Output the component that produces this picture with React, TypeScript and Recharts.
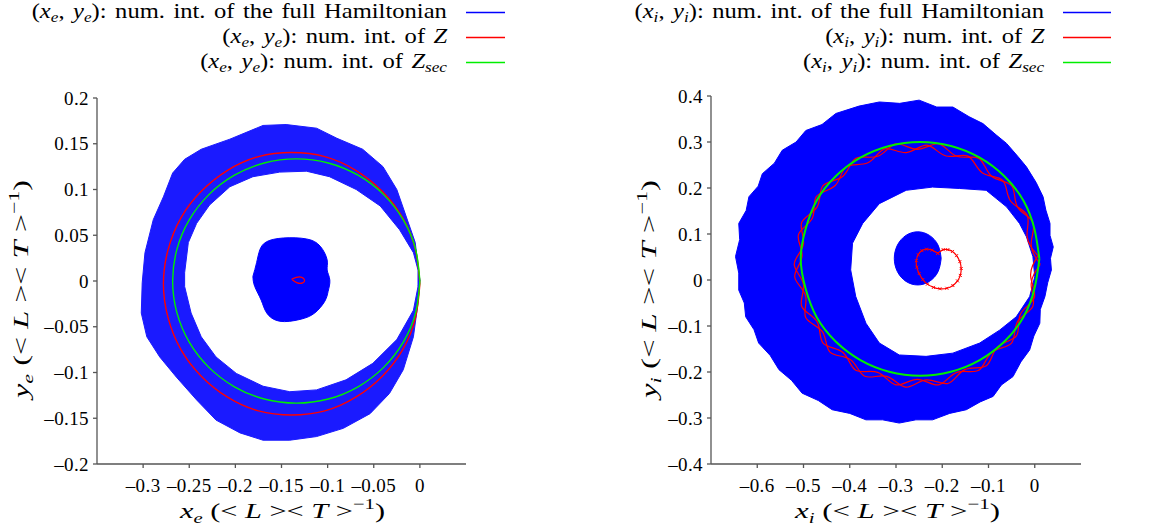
import React from "react";
import { ScatterChart, Scatter, XAxis, YAxis, Curve } from "recharts";

type Pt = [number, number];

const BLUE = "#0000ff";
const RED = "#ff0000";
const GREEN = "#00ee00";
const AXIS = "#555";
const FONT = "'Liberation Serif', 'Times New Roman', serif";

// tick values
const eTicksX = [-0.3, -0.25, -0.2, -0.15, -0.1, -0.05, 0];
const eTicksY = [-0.2, -0.15, -0.1, -0.05, 0, 0.05, 0.1, 0.15, 0.2];
const iTicksX = [-0.6, -0.5, -0.4, -0.3, -0.2, -0.1, 0];
const iTicksY = [-0.4, -0.3, -0.2, -0.1, 0, 0.1, 0.2, 0.3, 0.4];

// (x_e, y_e) full Hamiltonian: outer edge of the ring, then edge of the hole
const eFullOuter: Pt[] = [
  [0, 0.001], [-0.002, 0.016], [-0.005, 0.042], [-0.015, 0.071], [-0.025, 0.1],
  [-0.04, 0.125], [-0.062, 0.144], [-0.09, 0.156], [-0.112, 0.167], [-0.145, 0.171],
  [-0.17, 0.17], [-0.206, 0.155], [-0.237, 0.144], [-0.255, 0.133], [-0.268, 0.118],
  [-0.278, 0.092], [-0.289, 0.067], [-0.298, 0.031], [-0.301, -0.002], [-0.302, -0.035],
  [-0.296, -0.061], [-0.282, -0.083], [-0.264, -0.105], [-0.242, -0.13], [-0.221, -0.152],
  [-0.195, -0.166], [-0.17, -0.174], [-0.141, -0.174], [-0.112, -0.17], [-0.083, -0.161],
  [-0.054, -0.145], [-0.033, -0.123], [-0.018, -0.097], [-0.007, -0.061], [-0.002, -0.024],
];
const eFullHole: Pt[] = [
  [-0.002, -0.006], [-0.007, -0.032], [-0.025, -0.064], [-0.051, -0.09], [-0.08, -0.108],
  [-0.112, -0.119], [-0.141, -0.121], [-0.17, -0.115], [-0.199, -0.101], [-0.221, -0.083],
  [-0.237, -0.061], [-0.248, -0.035], [-0.255, -0.006], [-0.255, 0.009], [-0.251, 0.042],
  [-0.242, 0.063], [-0.228, 0.083], [-0.206, 0.103], [-0.181, 0.114], [-0.152, 0.119],
  [-0.123, 0.12], [-0.098, 0.114], [-0.069, 0.1], [-0.043, 0.082], [-0.022, 0.056],
  [-0.007, 0.031], [-0.002, 0.012],
];
const eFullBlob: Pt[] = [
  [-0.181, 0.005], [-0.177, 0.02], [-0.1735, 0.034], [-0.166, 0.043], [-0.148, 0.047],
  [-0.123, 0.046], [-0.108, 0.038], [-0.1005, 0.023], [-0.1005, 0.012], [-0.0976, 0.001],
  [-0.0995, -0.0115], [-0.103, -0.022], [-0.114, -0.035], [-0.13, -0.042], [-0.152, -0.044],
  [-0.166, -0.035], [-0.172, -0.021], [-0.179, -0.006],
];
// (x_e, y_e) Z
const eZ: Pt[] = [
  [0, -0.003], [-0.0047, 0.034], [-0.0186, 0.069], [-0.0407, 0.098], [-0.0695, 0.121],
  [-0.103, 0.136], [-0.139, 0.1405], [-0.175, 0.136], [-0.2085, 0.121], [-0.237, 0.098],
  [-0.259, 0.069], [-0.273, 0.034], [-0.278, -0.003], [-0.273, -0.04], [-0.259, -0.075],
  [-0.237, -0.104], [-0.2085, -0.127], [-0.175, -0.142], [-0.139, -0.1465], [-0.103, -0.142],
  [-0.0695, -0.127], [-0.0407, -0.104], [-0.0186, -0.075], [-0.0047, -0.04],
];
const eZSmall: Pt[] = [
  [-0.139, 0.002], [-0.134, 0.004], [-0.128, 0.004], [-0.125, 0.001], [-0.127, -0.002],
  [-0.133, -0.002],
];
// (x_e, y_e) Z_sec
const eZsec: Pt[] = [
  [0, 0], [-0.0046, 0.0346], [-0.018, 0.0668], [-0.0393, 0.0944], [-0.067, 0.1156],
  [-0.0993, 0.129], [-0.134, 0.1335], [-0.1687, 0.129], [-0.201, 0.1156], [-0.2287, 0.0944],
  [-0.25, 0.0668], [-0.2634, 0.0346], [-0.268, 0], [-0.2634, -0.0346], [-0.25, -0.0668],
  [-0.2287, -0.0944], [-0.201, -0.1156], [-0.1687, -0.129], [-0.134, -0.1335], [-0.0993, -0.129],
  [-0.067, -0.1156], [-0.0393, -0.0944], [-0.018, -0.0668], [-0.0046, -0.0346],
];

// (x_i, y_i) full Hamiltonian (outer edge is scalloped)
const iFullOuter: Pt[] = [
  [0.036, 0.022], [0.028, -0.006], [0.022, -0.036], [0.012, -0.064], [0.011, -0.094],
  [-0.002, -0.122], [-0.011, -0.152], [-0.03, -0.178], [-0.047, -0.21], [-0.072, -0.228],
  [-0.09, -0.253], [-0.118, -0.265], [-0.148, -0.282], [-0.184, -0.29], [-0.221, -0.304],
  [-0.257, -0.304], [-0.293, -0.311], [-0.329, -0.304], [-0.365, -0.304], [-0.4, -0.29],
  [-0.438, -0.282], [-0.468, -0.262], [-0.503, -0.246], [-0.526, -0.218], [-0.553, -0.195],
  [-0.572, -0.164], [-0.597, -0.137], [-0.607, -0.108], [-0.625, -0.08], [-0.628, -0.05],
  [-0.64, -0.022], [-0.64, 0.015], [-0.647, 0.051], [-0.638, 0.088], [-0.64, 0.123],
  [-0.624, 0.151], [-0.618, 0.181], [-0.598, 0.204], [-0.589, 0.231], [-0.563, 0.254],
  [-0.546, 0.282], [-0.516, 0.3], [-0.495, 0.325], [-0.46, 0.338], [-0.43, 0.362],
  [-0.38, 0.378], [-0.336, 0.387], [-0.292, 0.384], [-0.25, 0.391], [-0.212, 0.376],
  [-0.177, 0.376], [-0.142, 0.355], [-0.112, 0.34], [-0.083, 0.315], [-0.061, 0.297],
  [-0.036, 0.268], [-0.018, 0.246], [0.003, 0.212], [0.018, 0.181], [0.024, 0.152],
  [0.033, 0.123], [0.033, 0.097], [0.04, 0.072], [0.034, 0.047],
];
const iFullHole: Pt[] = [
  [0, 0.007], [-0.004, 0.051], [-0.018, 0.094], [-0.033, 0.123], [-0.061, 0.159],
  [-0.105, 0.195], [-0.163, 0.199], [-0.221, 0.202], [-0.278, 0.195], [-0.336, 0.166],
  [-0.372, 0.123], [-0.394, 0.08], [-0.398, 0.022], [-0.387, -0.036], [-0.365, -0.094],
  [-0.336, -0.137], [-0.293, -0.163], [-0.235, -0.166], [-0.177, -0.159], [-0.119, -0.137],
  [-0.076, -0.109], [-0.04, -0.08], [-0.011, -0.036],
];
const iFullBlob: Pt[] = [
  [-0.2023, 0.047], [-0.2091, 0.0759], [-0.2277, 0.097], [-0.253, 0.1048], [-0.2784, 0.097],
  [-0.2969, 0.0759], [-0.3037, 0.047], [-0.2969, 0.0181], [-0.2784, -0.003], [-0.253, -0.0108],
  [-0.2277, -0.003], [-0.2091, 0.0181],
];
// (x_i, y_i) Z: two wavy passes and the small loop
const iZa: Pt[] = [
  [0.012, 0.034], [-0.0078, 0.0774], [-0.004, 0.125], [-0.0375, 0.159], [-0.0502, 0.205],
  [-0.0933, 0.2255], [-0.121, 0.2644], [-0.1685, 0.2689], [-0.2078, 0.296], [-0.254, 0.284],
  [-0.3002, 0.296], [-0.3395, 0.2689], [-0.387, 0.2644], [-0.4147, 0.2255], [-0.4578, 0.205],
  [-0.4705, 0.159], [-0.504, 0.125], [-0.5002, 0.0774], [-0.52, 0.034], [-0.5002, -0.0094],
  [-0.504, -0.057], [-0.4705, -0.091], [-0.4578, -0.137], [-0.4147, -0.1575], [-0.387, -0.1964],
  [-0.3395, -0.2009], [-0.3002, -0.228], [-0.254, -0.216], [-0.2078, -0.228], [-0.1685, -0.2009],
  [-0.121, -0.1964], [-0.0933, -0.1575], [-0.0502, -0.137], [-0.0375, -0.091], [-0.004, -0.057],
  [-0.0078, -0.0094],
];
const iZb: Pt[] = [
  [0.007, 0.053], [-0.0165, 0.0942], [-0.0167, 0.1416], [-0.0528, 0.1723], [-0.0693, 0.2167],
  [-0.1137, 0.2332], [-0.1444, 0.2693], [-0.1918, 0.2695], [-0.233, 0.293], [-0.2776, 0.2771],
  [-0.3243, 0.285], [-0.3608, 0.2548], [-0.4074, 0.2463], [-0.4314, 0.2054], [-0.4723, 0.1814],
  [-0.4808, 0.1348], [-0.511, 0.0983], [-0.5031, 0.0516], [-0.519, 0.007], [-0.4955, -0.0342],
  [-0.4953, -0.0816], [-0.4592, -0.1123], [-0.4427, -0.1567], [-0.3983, -0.1732], [-0.3676, -0.2093],
  [-0.3202, -0.2095], [-0.279, -0.233], [-0.2344, -0.2171], [-0.1877, -0.225], [-0.1512, -0.1948],
  [-0.1046, -0.1863], [-0.0806, -0.1454], [-0.0397, -0.1214], [-0.0312, -0.0748], [-0.001, -0.0383],
  [-0.0089, 0.0084],
];
const iZSmall: Pt[] = [
  [-0.2097, 0.058], [-0.198, 0.066], [-0.188, 0.066], [-0.178, 0.062], [-0.169, 0.053],
  [-0.162, 0.04], [-0.159, 0.025], [-0.161, 0.01], [-0.167, -0.002], [-0.177, -0.012],
  [-0.19, -0.018], [-0.205, -0.019], [-0.219, -0.016], [-0.232, -0.009], [-0.242, 0.001],
  [-0.25, 0.014], [-0.255, 0.028], [-0.256, 0.042], [-0.252, 0.055], [-0.244, 0.064],
  [-0.234, 0.067], [-0.222, 0.065],
];
// (x_i, y_i) Z_sec
const iZsec: Pt[] = [
  [0.01, 0.046], [-0.0008, 0.1117], [-0.0246, 0.173], [-0.0656, 0.2256], [-0.119, 0.266],
  [-0.1812, 0.2913], [-0.248, 0.3], [-0.3148, 0.2913], [-0.377, 0.266], [-0.4304, 0.2256],
  [-0.4714, 0.173], [-0.4952, 0.1117], [-0.506, 0.046], [-0.4952, -0.0197], [-0.4714, -0.081],
  [-0.4304, -0.1336], [-0.377, -0.174], [-0.3148, -0.1993], [-0.248, -0.208], [-0.1812, -0.1993],
  [-0.119, -0.174], [-0.0656, -0.1336], [-0.0246, -0.081], [-0.0008, -0.0197],
];

const rows = (pts: Pt[]) => pts.map(([x, y]) => ({ x, y }));
const loop = (pts: Pt[]) => rows([...pts, pts[0]]);
const ring = (outer: Pt[], hole: Pt[]) =>
  rows([...outer, outer[0], ...hole, hole[0]]);

// line renderer: the points come from the Scatter (already scaled)
const path =
  (type: string, stroke: string, width: number, fill = "none") =>
  (p: any) => (
    <Curve
      points={p.points}
      type={type as any}
      stroke={stroke}
      strokeWidth={width}
      fill={fill}
      fillRule="evenodd"
    />
  );

const NoDot = () => <g />;
const Cross = (p: any) => (
  <path
    d={`M${p.cx - 1.5},${p.cy - 1.5}L${p.cx + 1.5},${p.cy + 1.5}M${p.cx - 1.5},${p.cy + 1.5}L${p.cx + 1.5},${p.cy - 1.5}`}
    stroke={RED}
    strokeWidth={1}
  />
);

const fmt = (v: number) => String(Math.round(v * 100) / 100).replace("-", "\u2013");
const tickStyle = { fill: "#000", fontSize: 19, fontFamily: FONT, letterSpacing: 0.4 };

const Sub = ({ children }: { children: React.ReactNode }) => (
  <i style={{ fontSize: "0.7em", position: "relative", top: "0.28em" }}>{children}</i>
);

function Pair({ s }: { s: string }) {
  return (
    <span>
      (<i>x</i>
      <Sub>{s}</Sub>, <i>y</i>
      <Sub>{s}</Sub>)
    </span>
  );
}

function LegendBox({
  s,
  textRight,
  lineLeft,
  lineLen,
}: {
  s: string;
  textRight: number;
  lineLeft: number;
  lineLen: number;
}) {
  const items = [
    { label: <>num. int. of the full Hamiltonian</>, color: BLUE },
    { label: <>num. int. of <i>Z</i></>, color: RED },
    { label: <>num. int. of <i>Z</i><Sub>sec</Sub></>, color: GREEN },
  ];
  return (
    <>
      {items.map((it, k) => (
        <div
          key={k}
          style={{
            position: "absolute",
            right: 1156 - textRight,
            top: k * 25 - 2,
            whiteSpace: "nowrap",
            fontSize: 21,
            lineHeight: "26px",
            wordSpacing: 2,
            transform: "scaleX(1.17)",
            transformOrigin: "right center",
          }}
        >
          <Pair s={s} />: {it.label}
        </div>
      ))}
      <svg
        style={{ position: "absolute", left: lineLeft, top: 0 }}
        width={lineLen}
        height={80}
      >
        {items.map((it, k) => (
          <line
            key={k}
            x1={0}
            x2={lineLen}
            y1={12.5 + k * 25}
            y2={12.5 + k * 25}
            stroke={it.color}
            strokeWidth={1.5}
          />
        ))}
      </svg>
    </>
  );
}

// one svg text per axis title, stretched to the reference length
function AxisTitle({
  s,
  v,
  x,
  y,
  len,
  rotate,
}: {
  s: string;
  v: string;
  x: number;
  y: number;
  len: number;
  rotate?: boolean;
}) {
  return (
    <text
      x={x}
      y={y}
      textAnchor="middle"
      fontSize={22}
      fontFamily={FONT}
      fill="#000"
      textLength={len}
      lengthAdjust="spacingAndGlyphs"
      transform={rotate ? `rotate(-90 ${x} ${y})` : undefined}
    >
      <tspan fontStyle="italic">{v}</tspan>
      <tspan fontStyle="italic" fontSize={15} dy={5}>{s}</tspan>
      <tspan dy={-5}>{"  (< "}</tspan>
      <tspan fontStyle="italic">L</tspan>
      <tspan>{" >< "}</tspan>
      <tspan fontStyle="italic">T</tspan>
      <tspan>{" >"}</tspan>
      <tspan fontSize={15} dy={-9}>{"\u22121"}</tspan>
      <tspan dy={9}>)</tspan>
    </text>
  );
}

function Panel({
  left,
  width,
  margin,
  xDomain,
  yDomain,
  xTicks,
  yTicks,
  children,
}: any) {
  return (
    <div style={{ position: "absolute", left, top: 0 }}>
      <ScatterChart width={width} height={531} margin={margin}>
        <XAxis
          type="number"
          dataKey="x"
          domain={xDomain}
          ticks={xTicks}
          interval={0}
          allowDataOverflow
          height={60}
          tickSize={4}
          tickMargin={11}
          tickFormatter={fmt}
          tick={tickStyle}
          stroke={AXIS}
          strokeWidth={1.3}
        />
        <YAxis
          type="number"
          dataKey="y"
          domain={yDomain}
          ticks={yTicks}
          interval={0}
          allowDataOverflow
          width={60}
          tickSize={4}
          tickMargin={4}
          tickFormatter={fmt}
          tick={tickStyle}
          stroke={AXIS}
          strokeWidth={1.3}
        />
        {children}
      </ScatterChart>
    </div>
  );
}

export default function App() {
  return (
    <div
      style={{
        position: "absolute",
        left: 0,
        top: 0,
        width: 1156,
        height: 531,
        background: "#fff",
        fontFamily: FONT,
        color: "#000",
        overflow: "hidden",
      }}
    >
      <LegendBox s="e" textRight={447} lineLeft={466} lineLen={39} />
      <LegendBox s="i" textRight={1044} lineLeft={1063} lineLen={48} />

      <Panel
        left={0}
        width={560}
        margin={{ top: 98, right: 94, bottom: 7, left: 37 }}
        xDomain={[-0.35, 0.05]}
        yDomain={[-0.2, 0.2]}
        xTicks={eTicksX}
        yTicks={eTicksY}
      >
        <Scatter
          data={ring(eFullOuter, eFullHole)}
          shape={NoDot}
          line={path("linear", "#1a1aff", 1, "#1a1aff")}
          isAnimationActive={false}
        />
        <Scatter
          data={loop(eFullBlob)}
          shape={NoDot}
          line={path("natural", BLUE, 1, BLUE)}
          isAnimationActive={false}
        />
        <Scatter
          data={loop(eZ)}
          shape={NoDot}
          line={path("natural", RED, 1.4)}
          isAnimationActive={false}
        />
        <Scatter
          data={loop(eZsec)}
          shape={NoDot}
          line={path("natural", GREEN, 1.4)}
          isAnimationActive={false}
        />
        <Scatter
          data={loop(eZSmall)}
          shape={NoDot}
          line={path("natural", RED, 1.2)}
          isAnimationActive={false}
        />
      </Panel>

      <Panel
        left={600}
        width={556}
        margin={{ top: 96, right: 75, bottom: 7, left: 51 }}
        xDomain={[-0.7, 0.1]}
        yDomain={[-0.4, 0.4]}
        xTicks={iTicksX}
        yTicks={iTicksY}
      >
        <Scatter
          data={ring(iFullOuter, iFullHole)}
          shape={NoDot}
          line={path("linear", BLUE, 1, BLUE)}
          isAnimationActive={false}
        />
        <Scatter
          data={loop(iFullBlob)}
          shape={NoDot}
          line={path("natural", BLUE, 1, BLUE)}
          isAnimationActive={false}
        />
        <Scatter
          data={loop(iZa)}
          shape={NoDot}
          line={path("natural", RED, 1.2)}
          isAnimationActive={false}
        />
        <Scatter
          data={loop(iZb)}
          shape={NoDot}
          line={path("natural", RED, 1.2)}
          isAnimationActive={false}
        />
        <Scatter
          data={loop(iZsec)}
          shape={NoDot}
          line={path("natural", GREEN, 2)}
          isAnimationActive={false}
        />
        <Scatter
          data={loop(iZSmall)}
          shape={Cross}
          line={path("natural", RED, 1.2)}
          isAnimationActive={false}
        />
      </Panel>

      <svg
        width={1156}
        height={531}
        style={{ position: "absolute", left: 0, top: 0, pointerEvents: "none" }}
      >
        <AxisTitle s="e" v="x" x={282.5} y={518} len={205} />
        <AxisTitle s="i" v="x" x={897.5} y={518} len={205} />
        <AxisTitle s="e" v="y" x={28} y={289} len={218} rotate />
        <AxisTitle s="i" v="y" x={656} y={289} len={218} rotate />
      </svg>
    </div>
  );
}
